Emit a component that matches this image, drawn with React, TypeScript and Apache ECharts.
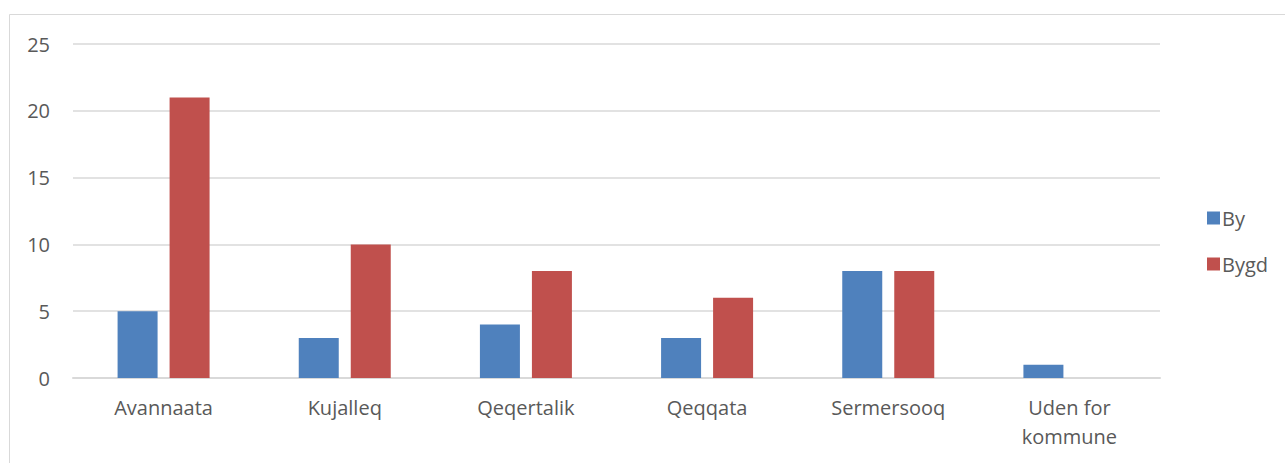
import React, { useEffect, useRef } from "react";
import * as echarts from "echarts";

const categories = ["Avannaata", "Kujalleq", "Qeqertalik", "Qeqqata", "Sermersooq", "Uden for\nkommune"];
const byValues = [5, 3, 4, 3, 8, 1];
const bygdValues = [21, 10, 8, 6, 8, null];
const seriesNames = ["By", "Bygd"];

export default function App() {
  const ref = useRef<HTMLDivElement>(null);
  useEffect(() => {
    if (!ref.current) return;
    const chart = echarts.init(ref.current, undefined, { renderer: "svg" });
    const font = "'Open Sans', Lato, sans-serif";
    chart.setOption({
      animation: false,
      backgroundColor: "#ffffff",
      textStyle: { fontFamily: font },
      graphic: [
        {
          type: "rect",
          shape: { x: 9.5, y: 14.5, width: 1400, height: 600 },
          style: { fill: "none", stroke: "#d9d9d9", lineWidth: 1 },
          silent: true,
        },
      ],
      grid: { left: 73, right: 125, top: 44, bottom: 85, containLabel: false },
      legend: {
        orient: "vertical",
        left: 1202,
        top: 203,
        itemWidth: 13,
        itemHeight: 13,
        itemGap: 26,
        icon: "rect",
        data: seriesNames,
        textStyle: { color: "#595959", fontSize: 20, fontFamily: font, padding: [0, 0, 0, -3] },
      },
      xAxis: {
        type: "category",
        data: categories,
        axisLine: { lineStyle: { color: "#d9d9d9", width: 2 } },
        axisTick: { show: false },
        axisLabel: { color: "#595959", fontSize: 20, fontFamily: font, margin: 15, lineHeight: 29, interval: 0 },
      },
      yAxis: {
        type: "value",
        min: 0,
        max: 25,
        interval: 5,
        axisLine: { show: false },
        axisTick: { show: false },
        splitLine: { lineStyle: { color: "#d9d9d9", width: 1.5 } },
        axisLabel: { color: "#595959", fontSize: 20, fontFamily: font, margin: 23 },
      },
      series: [
        {
          name: seriesNames[0],
          type: "bar",
          data: byValues,
          barWidth: 40,
          barGap: "30%",
          itemStyle: { color: "#4F81BD" },
        },
        {
          name: seriesNames[1],
          type: "bar",
          data: bygdValues,
          barWidth: 40,
          itemStyle: { color: "#C0504D" },
        },
      ],
    });
    return () => chart.dispose();
  }, []);
  return (
    <div
      ref={ref}
      style={{ position: "fixed", left: 0, top: 0, width: 1285, height: 463 }}
    />
  );
}
